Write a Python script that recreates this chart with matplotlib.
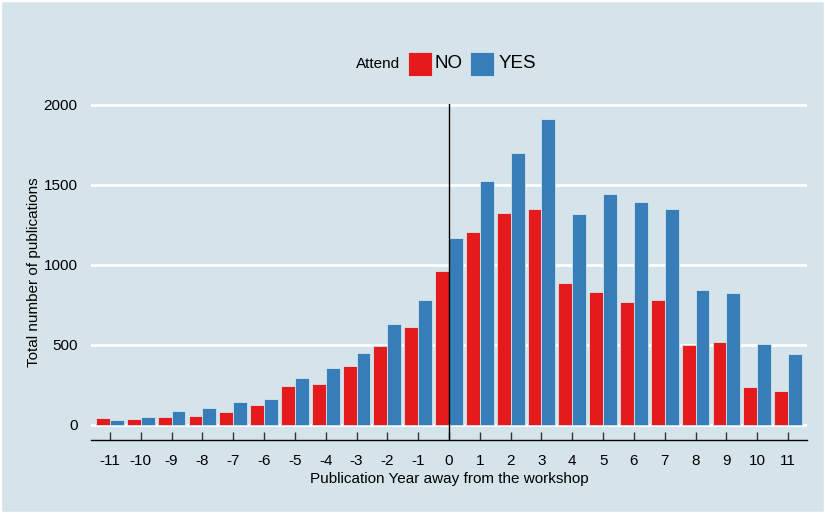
import matplotlib
matplotlib.use("Agg")
import matplotlib.pyplot as plt
from matplotlib.patches import Rectangle
import numpy as np

years = list(range(-11, 12))
no_vals = [43, 34, 49, 55, 76, 120, 241, 251, 366, 491, 611, 961,
           1203, 1326, 1347, 884, 828, 764, 782, 497, 518, 232, 211]
yes_vals = [26, 49, 84, 105, 141, 161, 291, 355, 449, 626, 776, 1168,
            1526, 1697, 1909, 1318, 1445, 1395, 1345, 839, 824, 505, 441]
series_names = ["NO", "YES"]
legend_title = "Attend"
y_ticks = [0, 500, 1000, 1500, 2000]

BG = "#d5e4eb"
RED = "#e41a1c"
BLUE = "#377eb8"

plt.rcParams['font.family'] = ['Liberation Sans', 'DejaVu Sans']

fig = plt.figure(figsize=(8.25, 5.13), dpi=100, facecolor=BG)
ax = fig.add_axes([0.1109, 0.1427, 0.8667, 0.6543])
ax.set_facecolor(BG)

x = np.array(years, dtype=float)
w = 0.45
ax.bar(x - w / 2, no_vals, width=w, color=RED, edgecolor=BG, linewidth=0.6, zorder=3)
ax.bar(x + w / 2, yes_vals, width=w, color=BLUE, edgecolor=BG, linewidth=0.6, zorder=3)

ax.set_xlim(-11.6, 11.6)
ax.set_ylim(-95.5, 2004)
ax.set_yticks(y_ticks)
ax.set_xticks(years)
ax.set_xticklabels([str(v) for v in years])
for yv in y_ticks:
    ax.axhline(yv, color="white", linewidth=2, zorder=1)
ax.axvline(0, color="black", linewidth=1, zorder=4)

for s in ["top", "right", "left"]:
    ax.spines[s].set_visible(False)
ax.spines["bottom"].set_color("black")
ax.spines["bottom"].set_linewidth(1)

ax.tick_params(axis="x", direction="in", length=6, width=1, color="#333333",
               labelsize=11, pad=10, labelcolor="black")
ax.tick_params(axis="y", length=0, labelsize=11, pad=10, labelcolor="black")

ax.set_xlabel("Publication Year away from the workshop", fontsize=11, labelpad=3)
ax.set_ylabel("Total number of publications", fontsize=11, labelpad=2)

# legend at top
fy = 1 - 64 / 513
fig.text(400 / 825, fy, legend_title, ha="right", va="center", fontsize=11)
sq_w = 24 / 825
sq_h = 24 / 513
fig.patches.append(Rectangle((408 / 825, fy - sq_h / 2), sq_w, sq_h, transform=fig.transFigure,
                             facecolor=RED, edgecolor=BG, linewidth=0.6))
fig.text(435 / 825, fy, series_names[0], ha="left", va="center", fontsize=13.5)
fig.patches.append(Rectangle((470 / 825, fy - sq_h / 2), sq_w, sq_h, transform=fig.transFigure,
                             facecolor=BLUE, edgecolor=BG, linewidth=0.6))
fig.text(499 / 825, fy, series_names[1], ha="left", va="center", fontsize=13.5)

# thin white frame around the figure
fig.patches.append(Rectangle((0, 0), 1, 1, transform=fig.transFigure,
                             facecolor="none", edgecolor="white", linewidth=2.5))

fig.savefig("out.png", dpi=100, facecolor=BG)
